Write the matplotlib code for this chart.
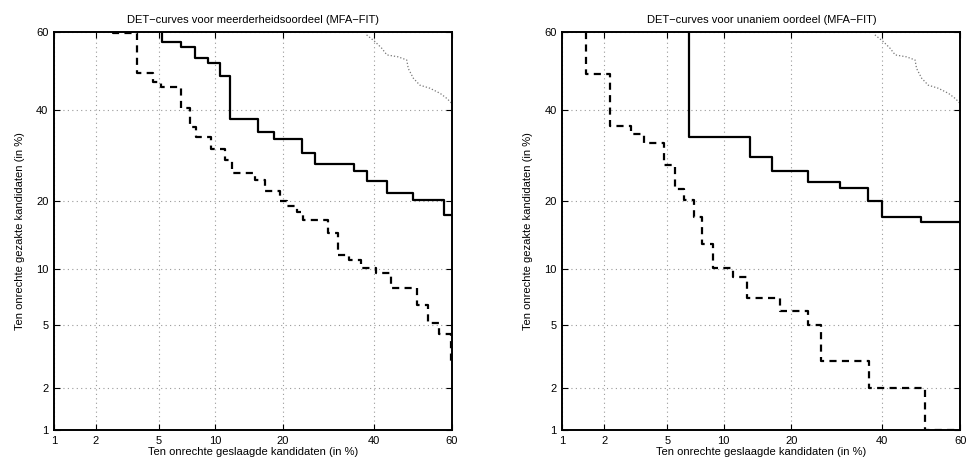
"""DET curves (probit axes) for the MFA-FIT evaluation, two panels."""

from statistics import NormalDist

import numpy as np
import matplotlib
matplotlib.use("Agg")
import matplotlib.pyplot as plt
from matplotlib.ticker import FixedLocator, FixedFormatter

plt.rcParams["font.family"] = ["Liberation Sans", "DejaVu Sans"]

# ---------------------------------------------------------------------------
# Data (all values in %).
# Step curves: vertical drop at x[i] from y[i] to y[i+1] (drawstyle steps-pre)
# ---------------------------------------------------------------------------
TICKS = [1, 2, 5, 10, 20, 40, 60]

# left panel: meerderheidsoordeel
maj_solid_x = [5.2, 6.6, 7.9, 9.2, 10.5, 11.8, 15.8, 18.4, 23.7, 26.3, 35.1,
               38.2, 43.4, 50.1, 58.0, 60]
maj_solid_y = [60, 57.5, 56.2, 53.2, 51.9, 48.7, 37.7, 34.5, 32.9, 29.7, 27.2,
               25.9, 23.8, 21.4, 20.1, 17.6]

maj_dash_x = [2.6, 3.7, 4.6, 5.15, 6.6, 7.45, 8.0, 9.5, 11.2, 12.0, 15.3, 16.9,
              19.5, 20.7, 22.6, 23.8, 29.1, 31.4, 33.9, 36.8, 40.6, 44.3, 51.0,
              54.0, 56.7, 59.8, 60]
maj_dash_y = [60, 59.6, 49.4, 47.2, 45.7, 40.6, 35.8, 33.5, 30.6, 28.1, 25.5,
              24.0, 21.9, 19.9, 19.1, 18.1, 16.7, 14.7, 11.7, 11.0, 10.1, 9.5,
              8.0, 6.5, 5.1, 4.4, 2.9]

# right panel: unaniem oordeel
una_solid_x = [6.6, 13.3, 16.6, 23.2, 30.0, 36.6, 39.9, 49.9, 60]
una_solid_y = [60, 33.5, 28.8, 25.9, 23.6, 22.4, 19.9, 17.2, 16.3]

una_dash_x = [1.5, 2.2, 3.0, 3.6, 4.8, 5.5, 6.2, 7.0, 7.8, 8.9, 11.1, 12.9,
              18.0, 23.2, 25.8, 36.8, 51.0, 60]
una_dash_y = [60, 49.2, 36.1, 34.1, 32.1, 27.1, 22.2, 20.2, 17.2, 13.1, 10.1,
              9.1, 7.1, 6.0, 5.0, 3.0, 2.0, 1.0]

# dotted reference curve (same in both panels)
ref_x = [38.2, 40.3, 42.0, 43.3, 46.2, 48.4, 48.8, 50.1, 51.8, 54.4, 57.0,
         58.7, 59.9]
ref_y = [59.2, 57.5, 55.8, 54.1, 53.6, 52.8, 50.6, 48.1, 46.3, 45.5, 44.2,
         42.9, 41.7]

TITLES = ["DET\u2212curves voor meerderheidsoordeel (MFA\u2212FIT)",
          "DET\u2212curves voor unaniem oordeel (MFA\u2212FIT)"]
XLABEL = "Ten onrechte geslaagde kandidaten (in %)"
YLABEL = "Ten onrechte gezakte kandidaten (in %)"

# ---------------------------------------------------------------------------
# Probit (normal deviate) scale
# ---------------------------------------------------------------------------
_nd = NormalDist()
_ppf = np.vectorize(_nd.inv_cdf, otypes=[float])
_cdf = np.vectorize(_nd.cdf, otypes=[float])


def probit(p):
    p = np.clip(np.asarray(p, dtype=float) / 100.0, 1e-9, 1 - 1e-9)
    return _ppf(p)


def inv_probit(z):
    return _cdf(np.asarray(z, dtype=float)) * 100.0


fig = plt.figure(figsize=(9.71, 4.62), dpi=100)
ax_l = fig.add_axes([0.0556, 0.0693, 0.4099, 0.8621])
ax_r = fig.add_axes([0.5791, 0.0693, 0.4099, 0.8621])

panels = [
    (ax_l, maj_solid_x, maj_solid_y, maj_dash_x, maj_dash_y, TITLES[0]),
    (ax_r, una_solid_x, una_solid_y, una_dash_x, una_dash_y, TITLES[1]),
]

for ax, sx, sy, dx, dy, title in panels:
    ax.set_xscale("function", functions=(probit, inv_probit))
    ax.set_yscale("function", functions=(probit, inv_probit))
    ax.set_xlim(1, 60)
    ax.set_ylim(1, 60)

    ax.step(sx, sy, where="pre", color="black", lw=1.6)
    ax.step(dx, dy, where="pre", color="black", lw=1.6,
            linestyle=(0, (3.2, 2.4)))
    ax.plot(ref_x, ref_y, color="#777777", lw=0.9, linestyle=(0, (1, 1.6)))

    for axis in (ax.xaxis, ax.yaxis):
        axis.set_major_locator(FixedLocator(TICKS))
        axis.set_major_formatter(FixedFormatter([str(t) for t in TICKS]))
        axis.set_minor_locator(FixedLocator([]))

    ax.grid(True, color="#9a9a9a", lw=0.8, linestyle=(0, (1, 3)))
    ax.tick_params(direction="in", top=True, right=True, length=4,
                   width=0.8, labelsize=8, pad=4)
    for sp in ax.spines.values():
        sp.set_linewidth(1.4)

    ax.set_title(title, fontsize=8, pad=6)
    ax.set_xlabel(XLABEL, fontsize=8, labelpad=1)
    ax.set_ylabel(YLABEL, fontsize=8, labelpad=8)

fig.savefig("out.png", dpi=100)
